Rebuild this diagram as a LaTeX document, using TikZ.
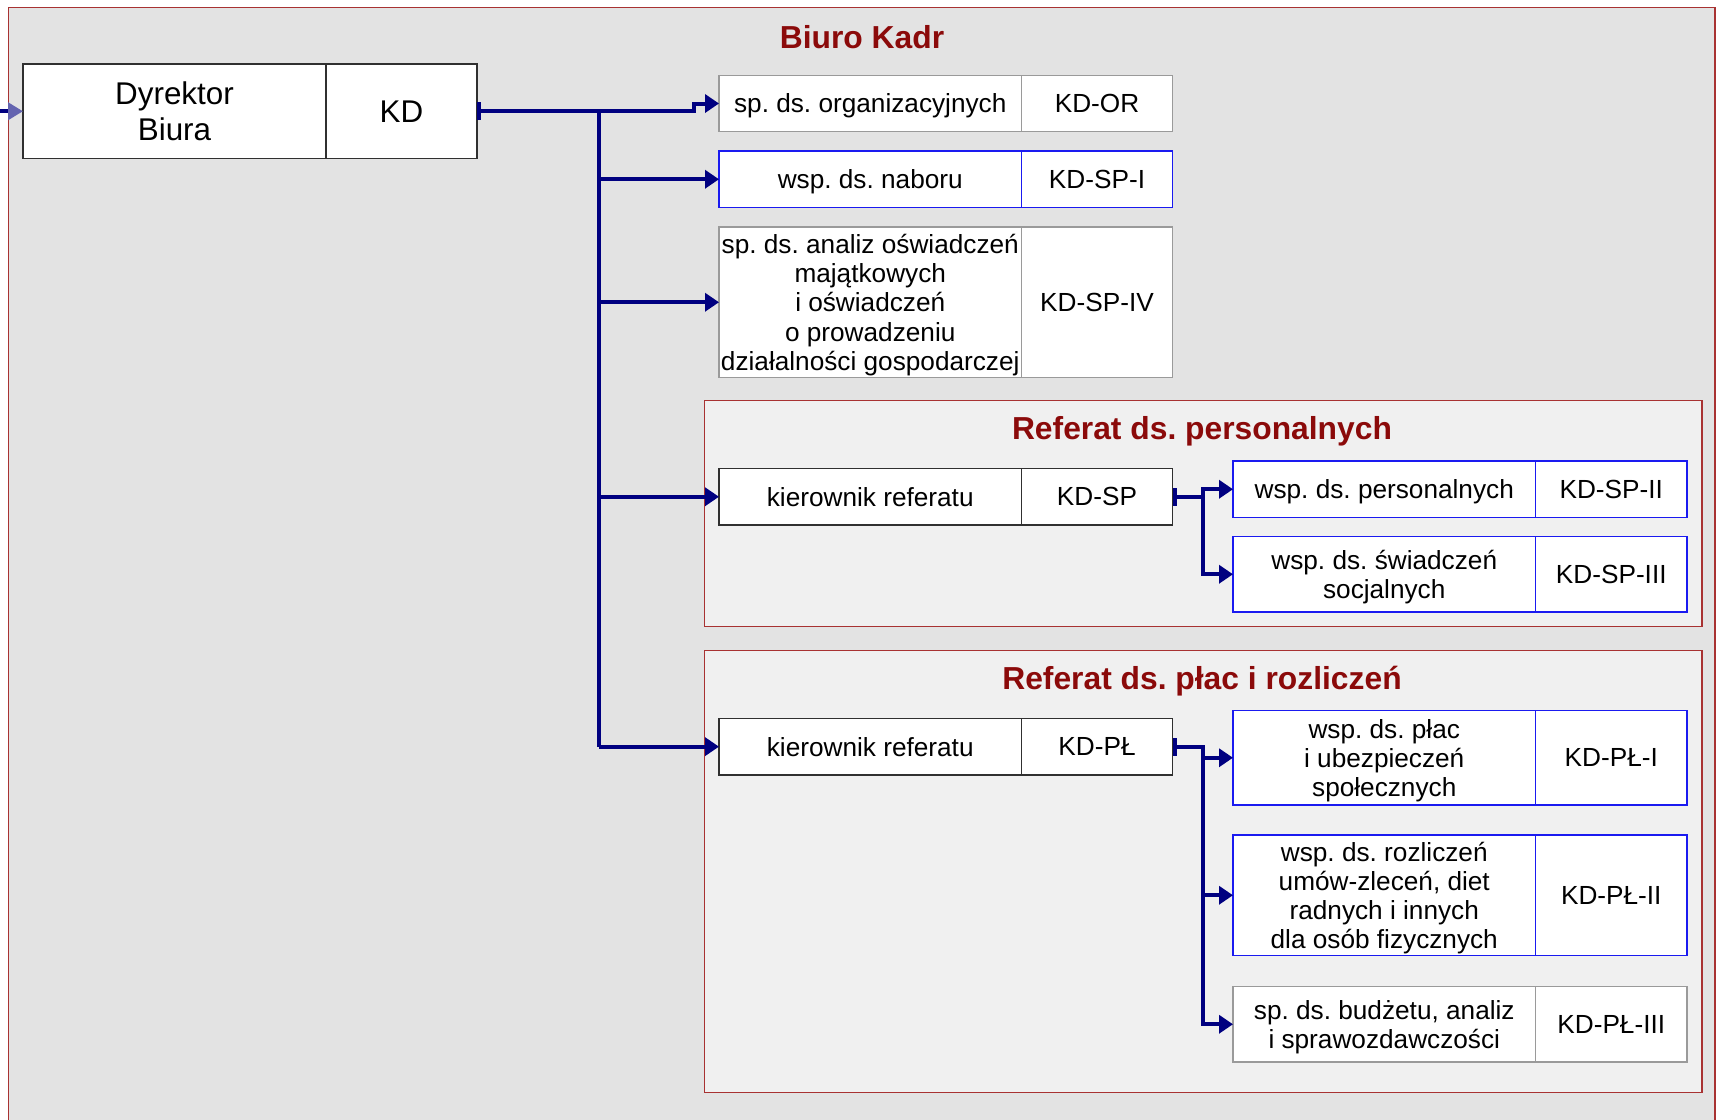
\documentclass[tikz,border=0pt]{standalone}
\usepackage{fontspec}
\setmainfont{Liberation Sans}
\usetikzlibrary{arrows.meta}
\frenchspacing
\definecolor{bggray}{HTML}{E3E3E3}
\definecolor{refgray}{HTML}{F0F0F0}
\definecolor{framered}{HTML}{A83232}
\definecolor{titlered}{HTML}{8B0A0A}
\definecolor{navyline}{HTML}{000080}
\definecolor{boxblue}{HTML}{1A1AF0}
\definecolor{boxgray}{HTML}{9A9A9A}
\definecolor{boxblack}{HTML}{303030}
\definecolor{tipblue}{HTML}{6464B0}
\begin{document}
\frenchspacing
\begin{tikzpicture}[x=0.5pt,y=-0.5pt,
  cell/.style={draw, fill=white, inner sep=0pt, outer sep=0pt, anchor=north west, align=center, text depth=0pt, font=\fontsize{13.1}{14.6}\selectfont, line width=0.6pt},
  gcell/.style={cell, draw=boxgray},
  bcell/.style={cell, draw=boxblue},
  kcell/.style={cell, draw=boxblack},
  unitbox/.style={draw=framered, fill=refgray, line width=0.6pt, inner sep=0pt, outer sep=0pt, anchor=north west},
  title/.style={text=titlered, text depth=0pt, font=\bfseries\fontsize{15.9}{19}\selectfont},
  conn/.style={draw=navyline, line width=2pt},
  arr/.style={conn, -{Triangle[length=7pt,width=9pt]}},
  barr/.style={conn, {Bar[width=9pt]}-{Triangle[length=7pt,width=9pt]}},
]
\useasboundingbox (0,0) rectangle (1726,1120);
\clip (0,0) rectangle (1726,1120);
\fill[white] (0,0) rectangle (1726,1120);
\fill[bggray] (8.5,7.5) rectangle (1715,1140);
\draw[draw=framered, line width=0.6pt] (8.5,1140) -- (8.5,7.5) -- (1715,7.5) -- (1715,1140);

\node[title] (tBiuro) at (862,36.5) {Biuro Kadr};

% referat frames
\node[unitbox, minimum width=498.75pt, minimum height=112.9pt] (refSP) at (704.5,400.7) {};
\node[unitbox, minimum width=498.75pt, minimum height=220.9pt] (refPL) at (704.5,650.5) {};
\node[title] (tSP) at (1202,428) {Referat ds. personalnych};
\node[title] (tPL) at (1202,678) {Referat ds. płac i rozliczeń};

% director
\node[kcell, minimum width=151.5pt, minimum height=47.25pt, font=\fontsize{15.7}{18.2}\selectfont] (dyr) at (23,64) {Dyrektor\\Biura};
\node[kcell, minimum width=75.5pt, minimum height=47.25pt, font=\fontsize{15.7}{18.2}\selectfont] (kd) at (326,64) {KD};

% middle column
\node[gcell, minimum width=151.25pt, minimum height=28pt] (orL) at (719,75.5) {sp. ds. organizacyjnych};
\node[gcell, minimum width=75.5pt, minimum height=28pt] (orR) at (1021.5,75.5) {KD-OR};
\node[bcell, minimum width=151.25pt, minimum height=28.25pt] (sp1L) at (719,151) {wsp. ds. naboru};
\node[bcell, minimum width=75.5pt, minimum height=28.25pt] (sp1R) at (1021.5,151) {KD-SP-I};
\node[gcell, minimum width=151.25pt, minimum height=75.25pt] (sp4L) at (719,227) {sp. ds. analiz oświadczeń\\majątkowych\\i oświadczeń\\o prowadzeniu\\działalności gospodarczej};
\node[gcell, minimum width=75.5pt, minimum height=75.25pt] (sp4R) at (1021.5,227) {KD-SP-IV};
\node[kcell, minimum width=151.25pt, minimum height=28.25pt] (spL) at (719,468.5) {kierownik referatu};
\node[kcell, minimum width=75.5pt, minimum height=28.25pt] (spR) at (1021.5,468.5) {KD-SP};
\node[kcell, minimum width=151.25pt, minimum height=28.35pt] (plL) at (719,718.3) {kierownik referatu};
\node[kcell, minimum width=75.5pt, minimum height=28.35pt] (plR) at (1021.5,718.3) {KD-PŁ};

% right column
\node[bcell, minimum width=151.25pt, minimum height=28.25pt] (sp2L) at (1233,461) {wsp. ds. personalnych};
\node[bcell, minimum width=75.75pt, minimum height=28.25pt] (sp2R) at (1535.5,461) {KD-SP-II};
\node[bcell, minimum width=151.25pt, minimum height=37.75pt] (sp3L) at (1233,536.5) {wsp. ds. świadczeń\\socjalnych};
\node[bcell, minimum width=75.75pt, minimum height=37.75pt] (sp3R) at (1535.5,536.5) {KD-SP-III};
\node[bcell, minimum width=151.25pt, minimum height=47.25pt] (pl1L) at (1233,710.5) {wsp. ds. płac\\i ubezpieczeń\\społecznych};
\node[bcell, minimum width=75.75pt, minimum height=47.25pt] (pl1R) at (1535.5,710.5) {KD-PŁ-I};
\node[bcell, minimum width=151.25pt, minimum height=60.25pt] (pl2L) at (1233,835) {wsp. ds. rozliczeń\\umów-zleceń, diet\\radnych i innych\\dla osób fizycznych};
\node[bcell, minimum width=75.75pt, minimum height=60.25pt] (pl2R) at (1535.5,835) {KD-PŁ-II};
\node[gcell, minimum width=151.25pt, minimum height=37.75pt] (pl3L) at (1233,986.5) {sp. ds. budżetu, analiz\\i sprawozdawczości};
\node[gcell, minimum width=75.75pt, minimum height=37.75pt] (pl3R) at (1535.5,986.5) {KD-PŁ-III};

% connectors
\coordinate (inS) at (0,111.25);
\coordinate (tr) at (598.5,0);
\coordinate (stepOR) at (694,0);
\coordinate (br) at (1203,0);

\draw[conn, -{Triangle[length=7.5pt,width=8.5pt,color=tipblue]}] (inS) -- (dyr.west);
\draw[conn] (kd.east -| tr) -- (plL.west -| tr);
\draw[barr] (kd.east) -- (kd.east -| stepOR) |- (orL.west);
\draw[arr] (sp1L.west -| tr) -- (sp1L.west);
\draw[arr] (sp4L.west -| tr) -- (sp4L.west);
\draw[arr] (spL.west -| tr) -- (spL.west);
\draw[arr] (plL.west -| tr) -- (plL.west);

\draw[barr] (spR.east) -- (spR.east -| br) |- (sp2L.west);
\draw[arr] (spR.east -| br) |- (sp3L.west);

\draw[barr] (plR.east) -- (plR.east -| br) |- (pl1L.west);
\draw[arr] (plR.east -| br) |- (pl2L.west);
\draw[arr] (plR.east -| br) |- (pl3L.west);
\end{tikzpicture}
\end{document}
